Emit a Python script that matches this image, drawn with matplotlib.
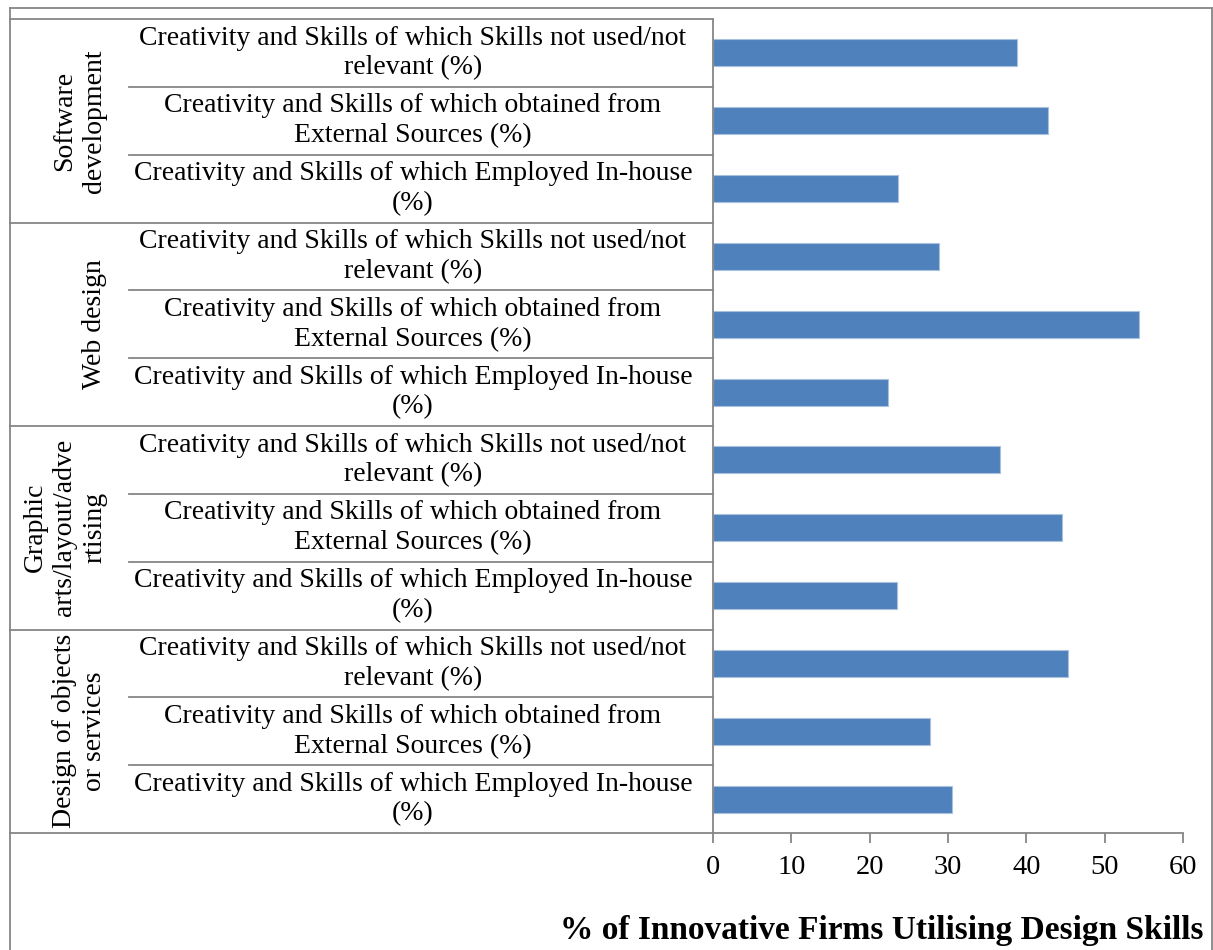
import numpy as np
import matplotlib.pyplot as plt
import matplotlib.transforms as mtransforms
from matplotlib.lines import Line2D

# groups top to bottom, each with three sub-categories
groups = ["Software\ndevelopment", "Web design",
          "Graphic\narts/layout/adve\nrtising", "Design of objects\nor services"]
sub_labels = ["Creativity and Skills of which Skills not used/not\nrelevant (%)",
              "Creativity and Skills of which obtained from\nExternal Sources (%)",
              "Creativity and Skills of which Employed In-house\n(%)"]
software = [38.8, 42.8, 23.6]
web = [28.9, 54.4, 22.3]
graphic = [36.6, 44.6, 23.5]
design_obj = [45.3, 27.7, 30.5]
ticks = [0, 10, 20, 30, 40, 50, 60]
xlabel = "% of Innovative Firms Utilising Design Skills"

W, H = 1213, 950
plt.rcParams['font.family'] = ['Liberation Serif', 'DejaVu Serif']
fig = plt.figure(figsize=(W / 100, H / 100), dpi=100)

ax_l, ax_r, ax_t, ax_b = 713, 1183, 19, 833
ax = fig.add_axes([ax_l / W, 1 - ax_b / H, (ax_r - ax_l) / W, (ax_b - ax_t) / H])

values = software + web + graphic + design_obj
n = len(values)
ypos = np.arange(n)
ax.barh(ypos, values, height=0.4, color='#4F81BD', edgecolor='#A9C1DF', linewidth=0.8)
ax.set_ylim(n - 0.5, -0.5)
ax.set_xlim(0, 60)
ax.set_xticks(ticks)
ax.set_yticks([])
grey = '#868686'
for s in ['top', 'right']:
    ax.spines[s].set_visible(False)
for s in ['left', 'bottom']:
    ax.spines[s].set_color(grey)
    ax.spines[s].set_linewidth(1.3)
ax.tick_params(axis='x', colors=grey, length=7, width=1.3, labelsize=20.5, labelcolor='black', pad=9)

fs = 20
trans = mtransforms.blended_transform_factory(fig.transFigure, ax.transData)
ax_x = ax_l / W
# category table lines
for k in range(len(groups) + 1):
    y = k * 3 - 0.5
    ax.add_line(Line2D([10 / W, ax_x], [y, y], transform=trans, color=grey, lw=1.3, clip_on=False))
for k in range(len(groups)):
    for j in (1, 2):
        y = k * 3 + j - 0.5
        ax.add_line(Line2D([129 / W, ax_x], [y, y], transform=trans, color=grey, lw=1.3, clip_on=False))

for i in range(n):
    ax.text(413 / W, i, sub_labels[i % 3], transform=trans, ha='center', va='center',
            multialignment='center', fontsize=fs, linespacing=1.25)
for k, g in enumerate(groups):
    ax.text(107 / W, k * 3 + 1, g, transform=trans, ha='right', va='center', rotation=90,
            multialignment='center', fontsize=fs, linespacing=1.25)

# outer frame
fig.add_artist(Line2D([10 / W, 10 / W], [0, 1 - 8 / H], color=grey, lw=1.3))
fig.add_artist(Line2D([10 / W, 1212 / W], [1 - 8 / H, 1 - 8 / H], color=grey, lw=1.3))
fig.add_artist(Line2D([1212 / W, 1212 / W], [0, 1 - 8 / H], color=grey, lw=1.3))

fig.text(1203 / W, 1 - 930 / H, xlabel, ha='right', va='center', fontsize=24, fontweight='bold')

fig.savefig('out.png', dpi=100)
